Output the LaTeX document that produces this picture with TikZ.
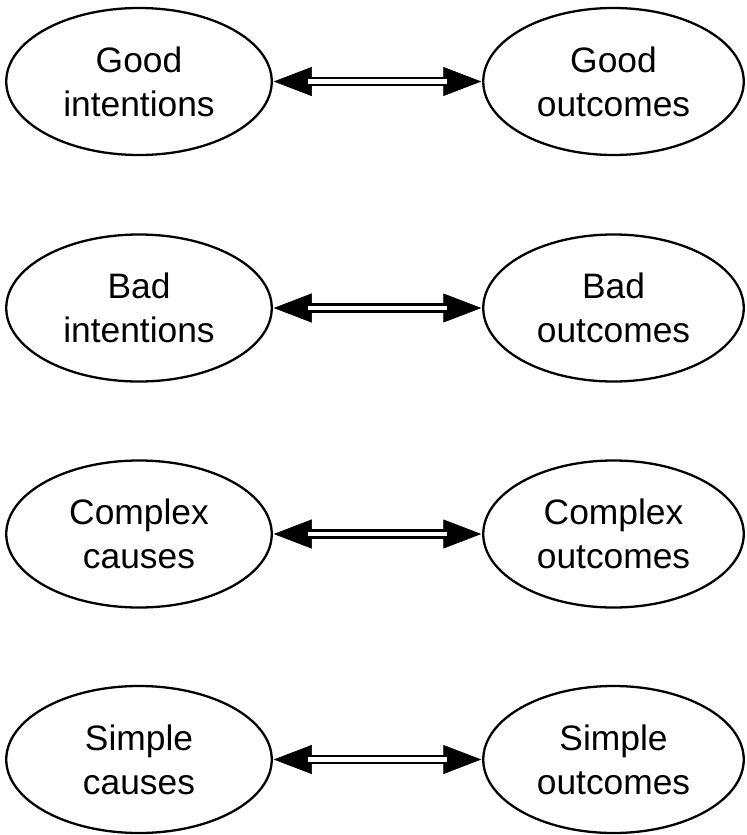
\documentclass[tikz,border=0pt]{standalone}
\usepackage{fontspec}
\setmainfont{Liberation Sans}
\usetikzlibrary{shapes.geometric,arrows.meta}
\begin{document}
\begin{tikzpicture}[x=1bp,y=-1bp,
  oval/.style={ellipse, draw, line width=2.3bp, inner sep=0pt, outer sep=0pt,
    align=center, font=\fontsize{35.5}{44}\selectfont},
  leftoval/.style={oval, minimum width=265.5bp, minimum height=147bp},
  rightoval/.style={oval, minimum width=260.5bp, minimum height=147bp},
  tips/.style={{Triangle[length=38bp,width=29bp]}-{Triangle[length=38bp,width=29bp]},
    line width=0.5bp, shorten <=2bp, shorten >=2bp},
  shaft/.style={double=white, double distance=4.5bp, line width=2.6bp,
    shorten <=36bp, shorten >=36bp}]
\useasboundingbox (0,0) rectangle (747,835);

\node[leftoval]  (gi) at (139,81.5)  {Good\\intentions};
\node[rightoval] (go) at (613.5,81.5) {Good\\outcomes};
\node[leftoval]  (bi) at (139,308)  {Bad\\intentions};
\node[rightoval] (bo) at (613.5,308) {Bad\\outcomes};
\node[leftoval]  (cc) at (139,534)  {Complex\\causes};
\node[rightoval] (co) at (613.5,534) {Complex\\outcomes};
\node[leftoval]  (sc) at (139,759.5)  {Simple\\causes};
\node[rightoval] (so) at (613.5,759.5) {Simple\\outcomes};

\foreach \a/\b in {gi/go, bi/bo, cc/co, sc/so}{
  \draw[tips] (\a) -- (\b);
  \draw[shaft] (\a) -- (\b);
}
\end{tikzpicture}
\end{document}
